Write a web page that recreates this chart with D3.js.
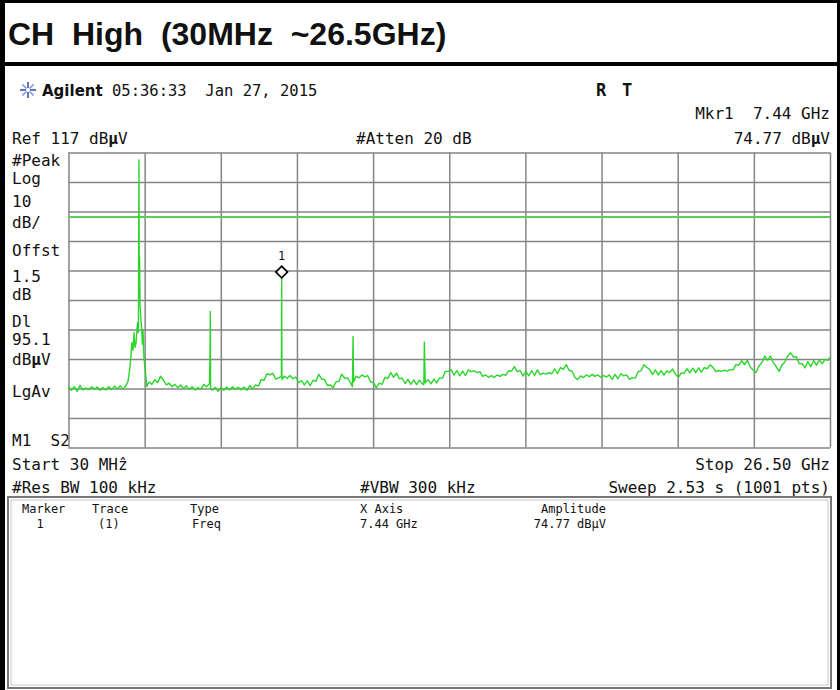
<!DOCTYPE html>
<html>
<head>
<meta charset="utf-8">
<script src="https://d3js.org/d3.v7.min.js"></script>
<style>
body { margin: 0; background: #fff; }
text { font-family: "DejaVu Sans Mono", monospace; fill: #111; white-space: pre; }
</style>
</head>
<body>
<svg id="chart" width="840" height="690"></svg>
<script>
// Sweep settings
var startGHz = 0.03, stopGHz = 26.5;
var refDb = 117, dbPerDiv = 10, divisions = 10;
var displayLineDb = 95.1;
var markerGHz = [7.44];
var markerDb = [74.77];

// Trace (GHz / dBuV)
var traceGHz = [
  0.03,0.13,0.23,0.33,0.43,0.53,0.63,0.73,0.83,0.93,
  1.03,1.13,1.23,1.33,1.43,1.53,1.63,1.73,1.83,1.93,
  2.03,2.10,2.17,2.20,2.23,2.27,2.31,2.34,2.38,2.41,
  2.43,2.46,2.48,2.49,2.50,2.52,2.55,2.57,2.60,2.62,
  2.64,2.66,2.69,2.71,2.75,2.83,2.93,3.03,3.13,3.23,
  3.33,3.43,3.53,3.63,3.73,3.83,3.93,4.03,4.13,4.23,
  4.33,4.43,4.53,4.63,4.73,4.83,4.93,4.95,4.96,4.97,
  5.03,5.13,5.23,5.33,5.43,5.53,5.63,5.73,5.83,5.93,
  6.03,6.13,6.23,6.33,6.43,6.53,6.63,6.73,6.83,6.93,
  7.03,7.13,7.23,7.33,7.43,7.44,7.45,7.53,7.63,7.73,
  7.83,7.93,8.03,8.13,8.23,8.33,8.43,8.53,8.63,8.73,
  8.83,8.93,9.03,9.13,9.23,9.33,9.43,9.53,9.63,9.73,
  9.83,9.90,9.92,9.94,10.03,10.13,10.23,10.33,10.43,10.53,
  10.63,10.73,10.83,10.93,11.03,11.13,11.23,11.33,11.43,11.53,
  11.63,11.73,11.83,11.93,12.03,12.13,12.23,12.33,12.38,12.40,
  12.43,12.53,12.63,12.73,12.83,12.93,13.03,13.13,13.23,13.33,
  13.43,13.53,13.63,13.73,13.83,13.93,14.03,14.13,14.23,14.33,
  14.43,14.53,14.63,14.73,14.83,14.93,15.03,15.13,15.23,15.33,
  15.43,15.53,15.63,15.73,15.83,15.93,16.03,16.13,16.23,16.33,
  16.43,16.53,16.63,16.73,16.83,16.93,17.03,17.13,17.23,17.33,
  17.43,17.53,17.63,17.73,17.83,17.93,18.03,18.13,18.23,18.33,
  18.43,18.53,18.63,18.73,18.83,18.93,19.03,19.13,19.23,19.33,
  19.43,19.53,19.63,19.73,19.83,19.93,20.03,20.13,20.23,20.33,
  20.43,20.53,20.63,20.73,20.83,20.93,21.03,21.13,21.23,21.33,
  21.43,21.53,21.63,21.73,21.83,21.93,22.03,22.13,22.23,22.33,
  22.43,22.53,22.63,22.73,22.83,22.93,23.03,23.13,23.23,23.33,
  23.43,23.53,23.63,23.73,23.83,23.93,24.03,24.13,24.23,24.33,
  24.43,24.53,24.63,24.73,24.83,24.93,25.03,25.13,25.23,25.33,
  25.43,25.53,25.63,25.73,25.83,25.93,26.03,26.13,26.23,26.33,
  26.43,26.50
];
var traceDb = [
  37.9,36.4,37.6,36.0,38.1,36.5,37.2,36.6,37.6,36.8,
  37.5,36.4,37.3,36.5,37.6,36.7,37.8,36.9,37.9,36.8,
  38.0,39.5,44.5,48.0,52.5,50.0,55.9,51.0,52.5,57.0,
  59.3,56.0,114.5,68.0,81.7,64.8,60.0,58.0,52.0,56.9,
  50.0,46.7,44.0,42.3,37.7,39.2,38.4,40.0,39.0,41.2,
  39.8,38.2,38.8,37.6,38.4,37.3,38.2,37.0,37.9,36.8,
  37.6,36.5,37.3,36.7,38.4,37.6,38.6,50.0,63.1,37.0,
  36.4,37.4,36.0,37.3,36.4,37.5,36.5,37.6,36.7,37.4,
  36.6,37.5,36.4,38.0,36.8,38.2,37.8,40.0,39.8,42.0,
  41.6,42.2,40.2,40.6,41.0,74.77,40.0,41.2,40.4,41.4,
  40.3,40.9,39.0,39.7,38.2,39.6,38.0,39.8,39.4,41.8,
  40.2,40.0,38.0,38.2,37.3,39.3,39.4,41.9,40.4,40.6,
  39.0,37.6,54.6,39.2,41.2,40.6,41.6,40.9,41.4,39.2,
  39.0,37.2,38.8,38.4,40.8,40.4,42.4,40.8,42.2,40.3,
  40.5,38.7,40.1,38.4,39.9,38.3,39.8,38.6,38.3,52.7,
  38.9,40.0,38.6,40.2,38.9,40.6,40.5,42.8,42.8,43.4,
  41.5,43.1,41.3,42.9,41.4,43.3,42.7,43.0,42.4,42.7,
  41.1,41.6,40.8,41.4,40.7,41.6,41.1,41.8,41.5,43.0,
  42.9,44.4,42.7,43.1,41.2,42.8,41.3,43.1,41.4,43.3,
  41.7,42.2,41.9,42.4,42.0,43.7,42.0,44.1,43.5,45.1,
  43.2,42.9,40.8,40.0,41.3,40.7,41.6,41.0,41.8,41.1,
  41.6,40.8,41.4,40.9,41.6,40.1,41.8,40.3,42.0,41.3,
  41.6,40.1,40.7,40.5,42.7,43.0,45.0,44.2,43.5,41.7,
  43.3,41.6,43.1,41.5,43.0,42.4,43.6,41.8,40.8,42.3,
  42.1,43.7,42.3,43.9,42.4,44.0,42.5,44.1,43.7,45.0,
  44.2,42.7,43.1,42.8,43.2,42.9,43.4,43.3,45.1,44.9,
  46.4,45.1,46.5,44.2,43.3,42.4,44.6,45.7,48.0,46.6,
  48.0,45.8,44.4,42.8,45.0,46.0,48.0,49.1,47.6,47.8,
  45.4,45.4,44.0,46.1,44.4,46.5,44.9,46.7,45.4,46.9,
  46.5,47.6
];

var leftLabels = ["#Peak", "Log", "10", "dB/", "Offst", "1.5", "dB", "Dl", "95.1", "dB\u03bcV", "LgAv", "M1  S2"];
var tableHeads = ["Marker", "Trace", "Type", "X Axis", "Amplitude"];
var tableRow = ["1", "(1)", "Freq", "7.44 GHz", "74.77 dB\u03bcV"];

var svg = d3.select("#chart");

// plot box (don't call it "top", window.top is read only)
var plotL = 68.5, plotR = 830, plotT = 152.5, plotB = 447.5;

var x = d3.scaleLinear().domain([startGHz, stopGHz]).range([plotL, plotR]);
var y = d3.scaleLinear().domain([refDb - divisions * dbPerDiv, refDb]).range([plotB, plotT]);

// frame of the screenshot
svg.append("rect").attr("x", 0).attr("y", 0).attr("width", 840).attr("height", 690).attr("fill", "#fff");
svg.append("rect").attr("x", 0).attr("y", 0).attr("width", 840).attr("height", 3).attr("fill", "#000");
svg.append("rect").attr("x", 0).attr("y", 62).attr("width", 840).attr("height", 4).attr("fill", "#000");
svg.append("rect").attr("x", 0).attr("y", 0).attr("width", 5).attr("height", 690).attr("fill", "#000");
svg.append("rect").attr("x", 837).attr("y", 0).attr("width", 3).attr("height", 690).attr("fill", "#000");

svg.append("text").attr("x", 8).attr("y", 45)
  .style("font-family", "'Liberation Sans', Arial, sans-serif")
  .style("font-weight", "bold").style("font-size", "32px")
  .text("CH  High  (30MHz  ~26.5GHz)");

// Agilent logo spark
var spark = svg.append("g").attr("transform", "translate(28,90)");
d3.range(8).forEach(function(i) {
  var a = i * Math.PI / 4;
  spark.append("line")
    .attr("x1", 2 * Math.cos(a)).attr("y1", 2 * Math.sin(a))
    .attr("x2", 8 * Math.cos(a)).attr("y2", 8 * Math.sin(a))
    .attr("stroke", i % 2 ? "#8fa3d8" : "#3a55b0").attr("stroke-width", 1.6);
});

svg.append("text").attr("x", 42).attr("y", 96)
  .style("font-family", "'DejaVu Sans', sans-serif").style("font-weight", "bold").style("font-size", "15px")
  .text("Agilent");
svg.append("text").attr("x", 112).attr("y", 96).style("font-size", "15.5px")
  .text("05:36:33  Jan 27, 2015");
svg.append("text").attr("x", 596).attr("y", 96).style("font-size", "17px").style("font-weight", "bold").text("R");
svg.append("text").attr("x", 622).attr("y", 96).style("font-size", "17px").style("font-weight", "bold").text("T");

function mono(xp, yp, s, anchor) {
  return svg.append("text").attr("x", xp).attr("y", yp)
    .attr("text-anchor", anchor || "start")
    .style("font-size", "16px")
    .text(s);
}
function withMu(t, before, after) {
  t.text(before);
  t.append("tspan").style("font-weight", "bold").text("\u03bc");
  t.append("tspan").text(after);
}

mono(830, 119, "Mkr1  7.44 GHz", "end");
withMu(mono(12, 144, ""), "Ref 117 dB", "V");
mono(356, 144, "#Atten 20 dB");
withMu(mono(830, 144, "", "end"), "74.77 dB", "V");

var labelY = [166, 184, 207, 228, 256, 282, 300, 327, 345, 365, 397, 446];
leftLabels.forEach(function(s, i) {
  var t = mono(12, labelY[i], "");
  if (s.indexOf("\u03bc") >= 0) withMu(t, "dB", "V"); else t.text(s);
});

mono(12, 470, "Start 30 MH\u1e91");
mono(830, 470, "Stop 26.50 GHz", "end");
mono(12, 493, "#Res BW 100 kHz");
mono(360, 493, "#VBW 300 kHz");
mono(830, 493, "Sweep 2.53 s (1001 pts)", "end");

// grid through d3 axes
var xDiv = d3.range(divisions + 1).map(function(i) { return startGHz + i * (stopGHz - startGHz) / divisions; });
var yDiv = d3.range(divisions + 1).map(function(i) { return refDb - i * dbPerDiv; });

var gx = svg.append("g").attr("transform", "translate(0," + plotB + ")")
  .call(d3.axisBottom(x).tickValues(xDiv).tickSize(-(plotB - plotT)).tickFormat(""));
var gy = svg.append("g").attr("transform", "translate(" + plotL + ",0)")
  .call(d3.axisLeft(y).tickValues(yDiv).tickSize(-(plotR - plotL)).tickFormat(""));
[gx, gy].forEach(function(g) {
  g.select(".domain").remove();
  g.selectAll("line").attr("stroke", "#858585").attr("stroke-width", 1.5);
});

// display line
svg.append("line").attr("x1", plotL).attr("x2", plotR)
  .attr("y1", y(displayLineDb)).attr("y2", y(displayLineDb))
  .attr("stroke", "#55cf55").attr("stroke-width", 2);

// trace
var pts = traceGHz.map(function(f, i) { return [f, traceDb[i]]; });
svg.append("path").datum(pts)
  .attr("fill", "none").attr("stroke", "#2bd62b").attr("stroke-width", 1.4)
  .attr("stroke-linejoin", "round")
  .attr("d", d3.line().x(function(d) { return x(d[0]); }).y(function(d) { return y(d[1]); }));

// marker: square turned 45deg, number above
markerGHz.forEach(function(f, i) {
  var mx = x(f), my = y(markerDb[i]) - 5;
  svg.append("path")
    .attr("d", d3.symbol().type(d3.symbolSquare).size(68)())
    .attr("transform", "translate(" + mx + "," + my + ") rotate(45)")
    .attr("fill", "#fff").attr("stroke", "#000").attr("stroke-width", 1.7);
  svg.append("text").attr("x", mx).attr("y", my - 12).attr("text-anchor", "middle")
    .style("font-size", "12px").text(String(i + 1));
});

// marker table box
svg.append("rect").attr("x", 8).attr("y", 497).attr("width", 823).attr("height", 191)
  .attr("fill", "none").attr("stroke", "#777").attr("stroke-width", 2);
svg.append("rect").attr("x", 11).attr("y", 500).attr("width", 817).attr("height", 185)
  .attr("fill", "none").attr("stroke", "#c8c8c8").attr("stroke-width", 1);

var colX = [22, 92, 190, 360, 606];
var colAnchor = ["start", "start", "start", "start", "end"];
tableHeads.forEach(function(s, i) {
  svg.append("text").attr("x", colX[i]).attr("y", 513).attr("text-anchor", colAnchor[i])
    .style("font-size", "12px").text(s);
});
var rowX = [40, 98, 192, 360, 606];
var rowAnchor = ["middle", "start", "start", "start", "end"];
tableRow.forEach(function(s, i) {
  svg.append("text").attr("x", rowX[i]).attr("y", 528).attr("text-anchor", rowAnchor[i])
    .style("font-size", "12px").text(s);
});
</script>
</body>
</html>
